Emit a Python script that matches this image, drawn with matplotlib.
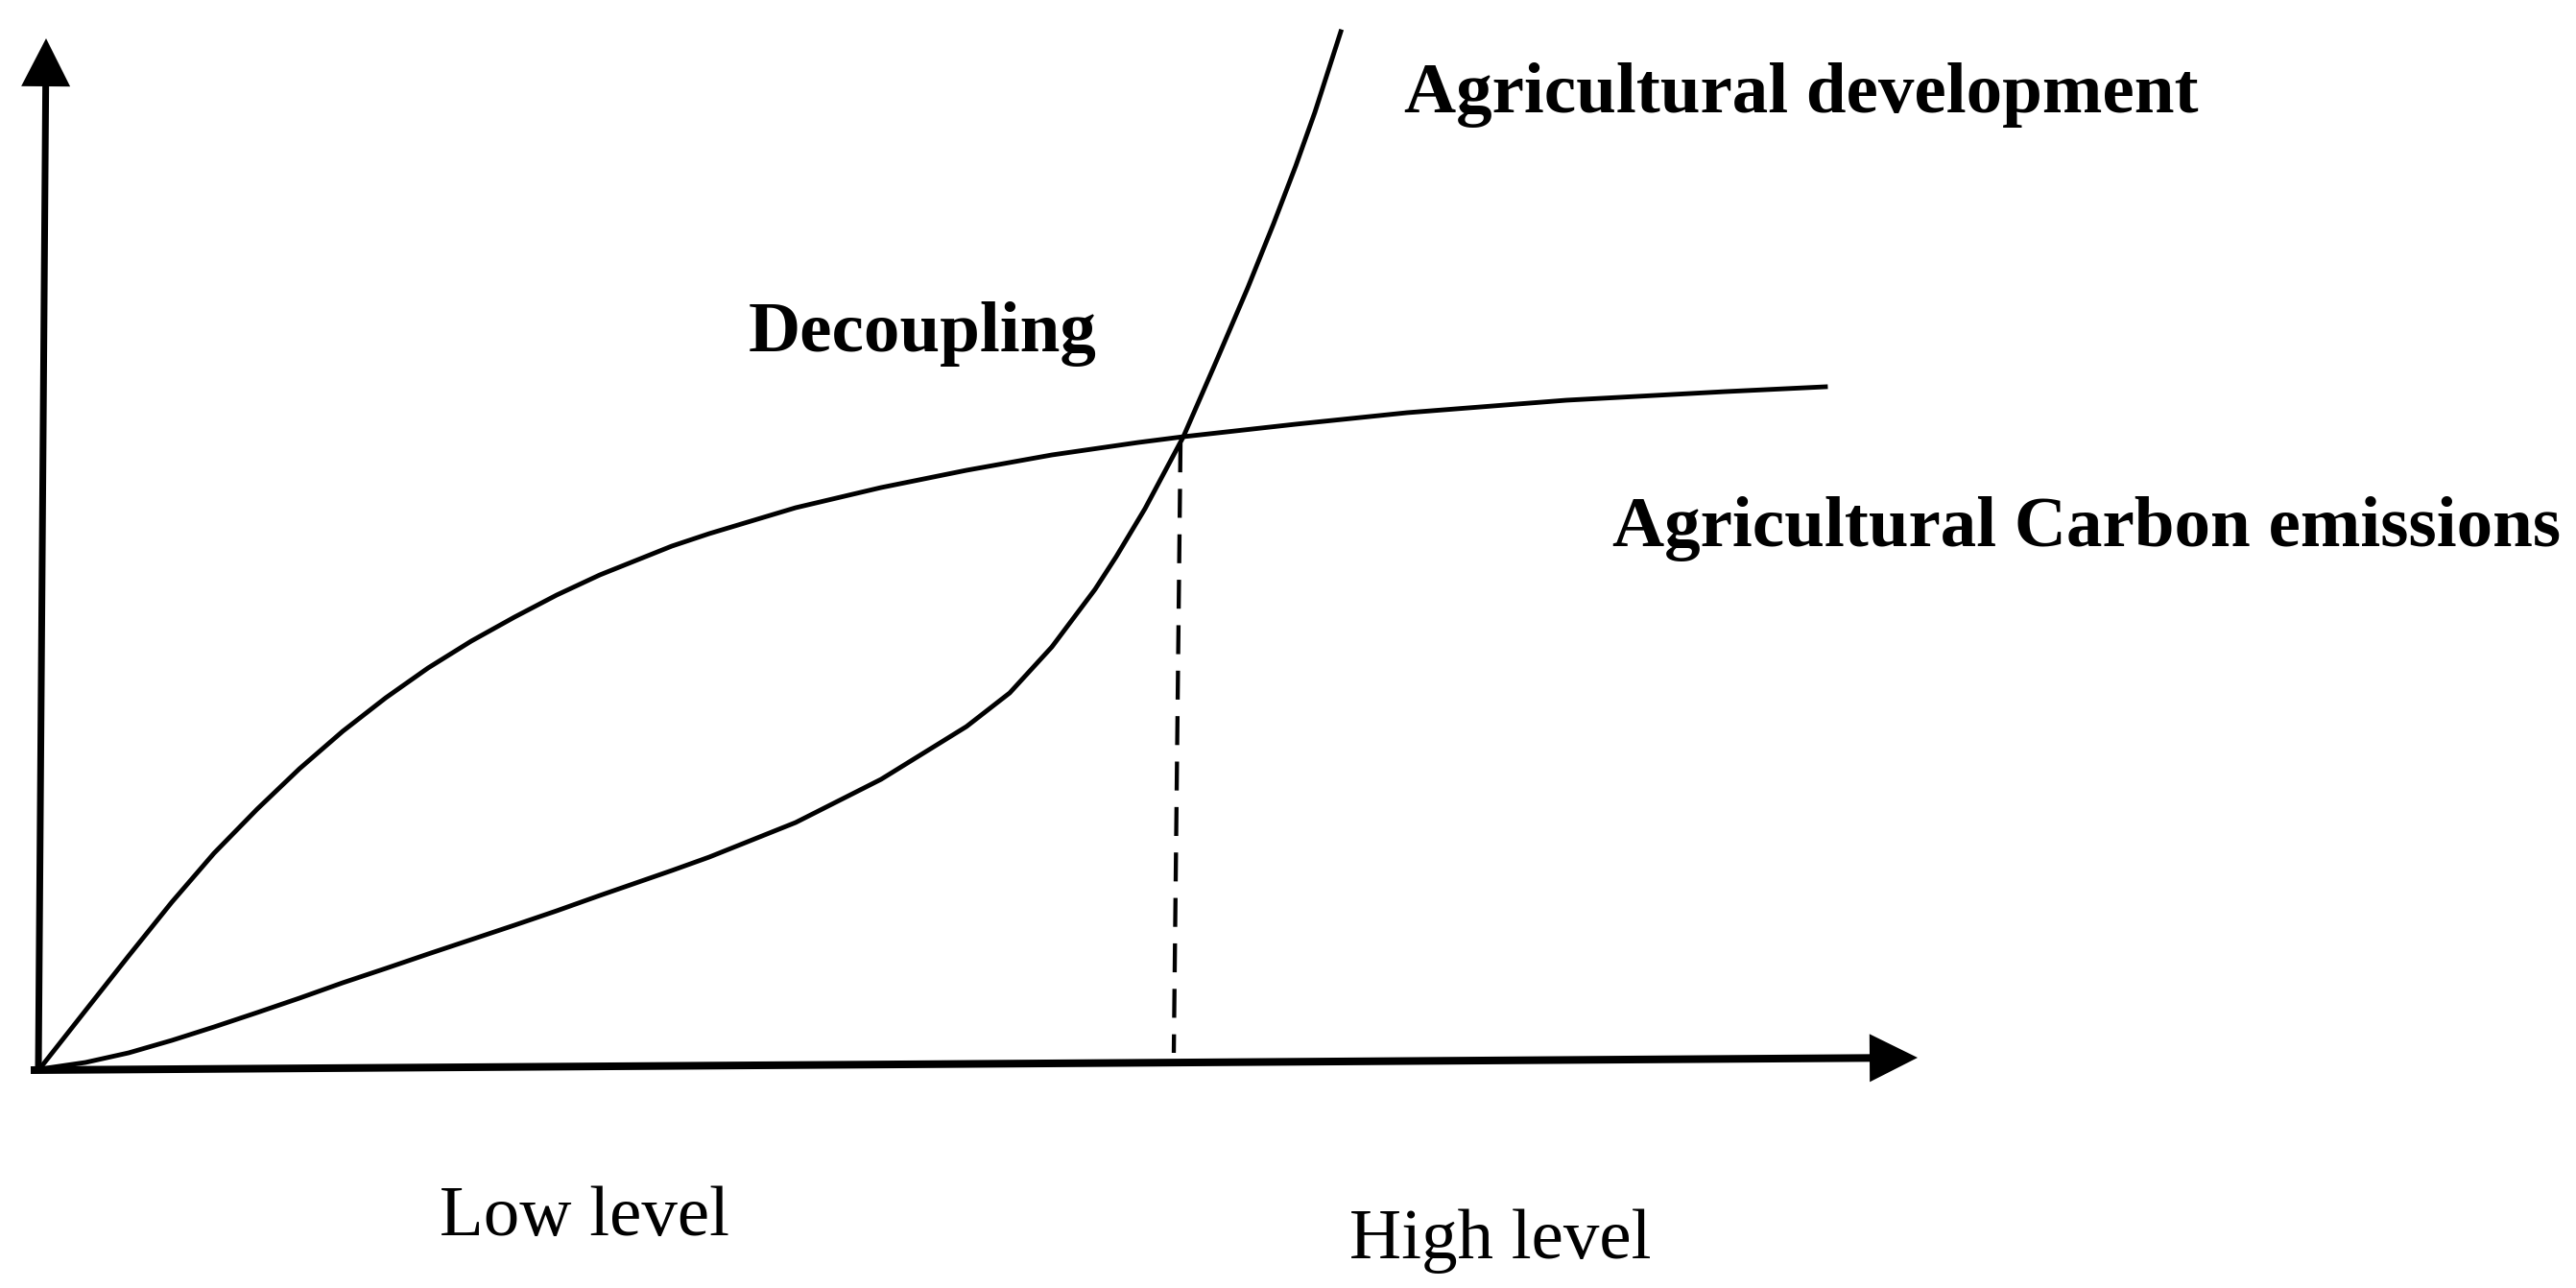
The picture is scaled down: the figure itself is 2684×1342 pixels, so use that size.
import matplotlib
matplotlib.use("Agg")
import matplotlib.pyplot as plt

# ---- data (diagram units: 1 unit = 1 output pixel, origin at axes corner) ----
carbon_x = [0, 48, 93, 138, 182, 227, 271, 316, 361, 405, 450, 495, 539, 584, 659,
            698, 788, 877, 966, 1055, 1145, 1192, 1309, 1425, 1591, 1757, 1861]
carbon_y = [0, 61, 118, 174, 225, 271, 313, 352, 387, 418, 446, 471, 494, 515, 545,
            558, 585, 606, 624, 640, 653, 659, 672, 684, 697, 706, 711]

dev_x = [0, 48, 93, 138, 182, 227, 271, 316, 361, 405, 450, 495, 539, 584, 659, 698,
         788, 877, 966, 1011, 1055, 1100, 1122, 1152, 1192, 1226, 1259, 1286, 1309,
         1329, 1356]
dev_y = [0, 7, 17, 30, 44, 59, 74, 90, 105, 120, 135, 150, 165, 181, 207, 221,
         257, 302, 357, 392, 440, 500, 534, 584, 659, 737, 814, 881, 941,
         997, 1081]

decoupling_x = [1189, 1182]
decoupling_y = [652, 17]

labels = {
    "dev": "Agricultural development",
    "carbon": "Agricultural Carbon emissions",
    "decoupling": "Decoupling",
    "low": "Low level",
    "high": "High level",
}

W, H = 2684, 1342
fig = plt.figure(figsize=(W / 100, H / 100), dpi=100)
ax = fig.add_axes([0, 0, 1, 1])
ax.set_xlim(-41, W - 41)
ax.set_ylim(-(H - 1114), 1114)
ax.axis("off")

lw_curve = 3.5
ax.plot(carbon_x, carbon_y, color="black", lw=lw_curve, solid_joinstyle="round")
ax.plot(dev_x, dev_y, color="black", lw=lw_curve, solid_joinstyle="round")
ax.plot(decoupling_x, decoupling_y, color="black", lw=3.1, dashes=(7, 4))

# axes arrows
ax.arrow(-1, -1, 8, 1075, width=7, head_width=51, head_length=50,
         length_includes_head=True, color="black", lw=0)
ax.arrow(-9, -1, 1966, 13, width=8, head_width=50, head_length=50,
         length_includes_head=True, color="black", lw=0)

serif = ["Liberation Serif", "DejaVu Serif"]
fs = 54
ax.text(1422, 997, labels["dev"], fontsize=fs, fontweight="bold", family=serif,
        ha="left", va="baseline")
ax.text(1639, 545, labels["carbon"], fontsize=fs, fontweight="bold", family=serif,
        ha="left", va="baseline")
ax.text(739, 748, labels["decoupling"], fontsize=fs, fontweight="bold", family=serif,
        ha="left", va="baseline")
ax.text(417, -173, labels["low"], fontsize=fs, family=serif, ha="left", va="baseline")
ax.text(1365, -197, labels["high"], fontsize=fs, family=serif, ha="left", va="baseline")

fig.savefig("out.png", dpi=100, facecolor="white")
